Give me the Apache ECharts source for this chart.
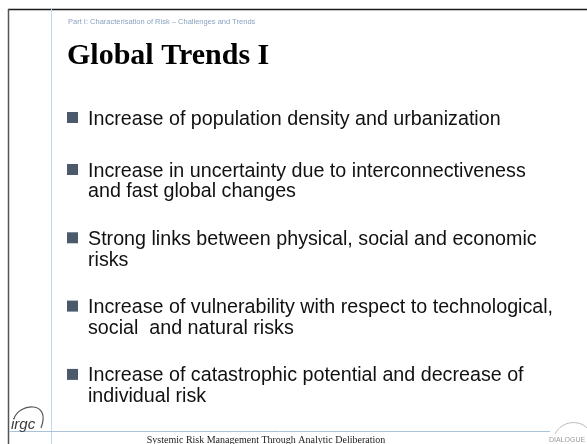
<!DOCTYPE html>
<html>
<head>
<meta charset="utf-8">
<script src="https://cdn.jsdelivr.net/npm/echarts@6/dist/echarts.min.js"></script>
<style>
  html, body { margin: 0; padding: 0; background: #ffffff; }
  #slide { width: 587px; height: 444px; }
</style>
</head>
<body>
<div id="slide"></div>
<script>
// slide texts
var sectionTitle = 'Part I: Characterisation of Risk \u2013 Challenges and Trends';
var slideTitle = 'Global Trends I';
var bulletLines = [
    ['Increase of population density and urbanization'],
    ['Increase in uncertainty due to interconnectiveness', 'and fast global changes'],
    ['Strong links between physical, social and economic', 'risks'],
    ['Increase of vulnerability with respect to technological,', 'social  and natural risks'],
    ['Increase of catastrophic potential and decrease of', 'individual risk']
];
var footerText = 'Systemic Risk Management Through Analytic Deliberation';
var logoLeft = 'irgc';
var logoRight = 'DIALOGUE';

var slide = echarts.init(document.getElementById('slide'));

var sans = '"Liberation Sans", Arial, sans-serif';
var serif = '"Liberation Serif", "Times New Roman", serif';
var bodySize = 19.7;
var lineH = 20.8;

var elements = [];

// frame lines
elements.push({ type: 'line', shape: { x1: 8, y1: 9.5, x2: 587, y2: 9.5 }, style: { stroke: '#1a1a1a', lineWidth: 1.5 } });
elements.push({ type: 'line', shape: { x1: 8.5, y1: 9, x2: 8.5, y2: 444 }, style: { stroke: '#555555', lineWidth: 1.5 } });
elements.push({ type: 'line', shape: { x1: 51.5, y1: 8, x2: 51.5, y2: 444 }, style: { stroke: '#c3d5e6', lineWidth: 1 } });
elements.push({ type: 'line', shape: { x1: 9, y1: 431.5, x2: 550, y2: 431.5 }, style: { stroke: '#a9c1d9', lineWidth: 1 } });

// header
elements.push({
    type: 'text', x: 68, y: 22,
    style: { text: sectionTitle, font: '7.5px ' + sans, fill: '#8aa3c2', verticalAlign: 'middle' }
});
elements.push({
    type: 'text', x: 67, y: 56,
    style: { text: slideTitle, font: 'bold 30px ' + serif, fill: '#000000', verticalAlign: 'middle' }
});

// bullets
var baseline = 125;
bulletLines.forEach(function (lines, i) {
    elements.push({
        type: 'rect', shape: { x: 67, y: baseline - 13, width: 11, height: 11 },
        style: { fill: '#4b5a6b' }
    });
    lines.forEach(function (t, j) {
        elements.push({
            type: 'text', x: 88, y: baseline + j * lineH - 0.3 * bodySize,
            style: { text: t, font: bodySize + 'px ' + sans, fill: '#111111', verticalAlign: 'middle' }
        });
    });
    baseline += (lines.length - 1) * lineH + (i === 0 ? 52 : 47.5);
});

// footer
elements.push({
    type: 'text', x: 266, y: 440,
    style: { text: footerText, font: '10px ' + serif, fill: '#222222', align: 'center', verticalAlign: 'middle' }
});

// irgc logo
elements.push({
    type: 'text', x: 11, y: 425,
    style: { text: logoLeft, font: 'italic 15px ' + sans, fill: '#3a3a3a', verticalAlign: 'middle' }
});
elements.push({
    type: 'bezierCurve',
    shape: { x1: 14, y1: 419, cpx1: 18, cpy1: 403, cpx2: 52, cpy2: 400, x2: 41, y2: 428 },
    style: { fill: null, stroke: '#555555', lineWidth: 1.2 }
});

// dialogue logo
elements.push({
    type: 'bezierCurve',
    shape: { x1: 555, y1: 434, cpx1: 562, cpy1: 420, cpx2: 580, cpy2: 420, x2: 587, y2: 428 },
    style: { fill: null, stroke: '#bbbbbb', lineWidth: 1 }
});
elements.push({
    type: 'text', x: 549, y: 440,
    style: { text: logoRight, font: '7px ' + sans, fill: '#9a9a9a', verticalAlign: 'middle' }
});

var option = {
    backgroundColor: '#ffffff',
    animation: false,
    graphic: { elements: elements }
};

slide.setOption(option);
</script>
</body>
</html>
